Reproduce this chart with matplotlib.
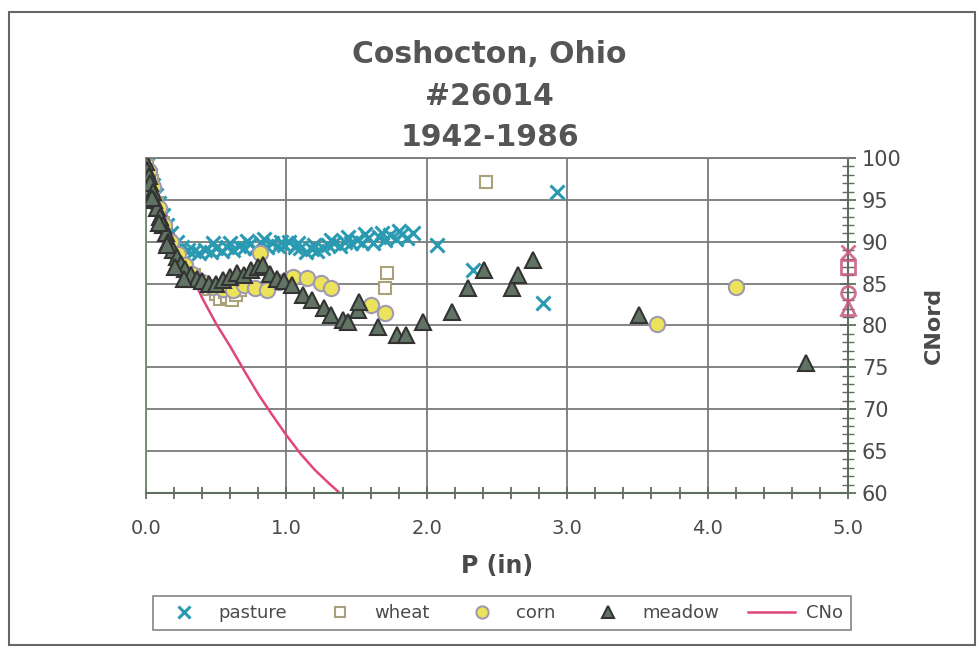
import matplotlib.pyplot as plt
from matplotlib.ticker import MultipleLocator, FormatStrFormatter
from matplotlib.patches import Rectangle

# storm rainfall P (in) vs ordered curve number, by land use
pasture_p = [0.01, 0.03, 0.05, 0.07, 0.09, 0.12, 0.15, 0.18, 0.22, 0.26, 0.30, 0.34, 0.38,
             0.42, 0.46, 0.50, 0.54, 0.58, 0.62, 0.66, 0.70, 0.74, 0.78, 0.82, 0.86, 0.90,
             0.94, 0.98, 1.02, 1.06, 1.10, 1.14, 1.18, 1.22, 1.26, 1.30, 1.34, 1.38, 1.42,
             1.46, 1.50, 1.54, 1.58, 1.62, 1.66, 1.70, 1.74, 1.78, 1.82, 1.86, 1.90,
             0.48, 0.60, 0.72, 0.84, 0.96, 1.08, 1.20, 1.32, 1.44, 1.56, 1.68, 1.80,
             2.07, 2.33, 2.83, 2.93]
pasture_cn = [99.2, 98.0, 96.8, 95.6, 94.6, 93.2, 92.0, 91.0, 90.0, 89.4, 89.0, 88.9, 88.6,
              89.0, 88.8, 89.2, 88.9, 89.4, 89.0, 89.5, 89.2, 89.7, 89.3, 89.8, 89.4, 89.9,
              89.5, 89.6, 90.0, 89.4, 89.2, 88.8, 89.1, 88.9, 89.3, 89.6, 89.9, 89.5, 90.0,
              89.8, 90.2, 89.9, 90.4, 89.8, 90.6, 90.2, 90.8, 90.3, 90.9, 90.5, 91.1,
              89.8, 89.9, 90.1, 90.3, 90.0, 89.9, 89.6, 90.2, 90.6, 90.9, 91.0, 91.3,
              89.6, 86.6, 82.7, 95.9]

wheat_p = [0.01, 0.04, 0.08, 0.12, 0.17, 0.22, 0.28, 0.34, 0.40, 0.45, 0.50, 0.53, 0.56,
           0.58, 0.61, 0.64, 0.67, 1.70, 1.72, 2.42]
wheat_cn = [99.0, 97.2, 94.6, 92.2, 90.0, 88.4, 87.0, 86.0, 85.2, 84.4, 83.8, 83.2, 84.0,
            83.4, 83.0, 83.6, 84.2, 84.5, 86.3, 97.1]

corn_p = [0.02, 0.05, 0.09, 0.13, 0.18, 0.23, 0.28, 0.33, 0.40, 0.48, 0.55, 0.62, 0.70,
          0.78, 0.81, 0.86, 0.95, 1.05, 1.15, 1.25, 1.32, 1.60, 1.70, 3.64, 4.20]
corn_cn = [98.5, 96.5, 94.0, 92.0, 90.0, 88.5, 87.2, 86.2, 85.2, 84.6, 84.4, 84.2, 84.8,
           84.5, 88.6, 84.2, 85.2, 85.8, 85.7, 85.1, 84.5, 82.5, 81.5, 80.2, 84.6]

meadow_p = [0.00, 0.01, 0.02, 0.03, 0.05, 0.06, 0.08, 0.10, 0.12, 0.14, 0.16, 0.19, 0.22,
            0.25, 0.28, 0.32, 0.36, 0.40, 0.45, 0.50, 0.55, 0.60, 0.65, 0.70, 0.75, 0.80,
            0.83, 0.88, 0.93, 0.98, 1.04, 1.12, 1.18, 1.27, 1.32, 1.40, 1.44, 1.51, 1.52,
            1.65, 1.79, 1.85, 1.97, 2.18, 2.29, 2.41, 2.61, 2.65, 2.76, 3.51, 4.70,
            0.04, 0.09, 0.15, 0.21, 0.27]
meadow_cn = [99.5, 98.6, 97.8, 97.0, 96.0, 95.0, 94.0, 93.0, 92.0, 91.0, 90.0, 89.0, 88.2,
             87.4, 86.8, 86.0, 85.6, 85.3, 85.0, 85.0, 85.4, 85.8, 86.3, 86.0, 86.6, 87.0,
             87.2, 86.2, 85.6, 85.3, 84.8, 83.6, 83.0, 82.1, 81.3, 80.7, 80.4, 81.9, 82.8,
             79.8, 78.9, 78.9, 80.4, 81.6, 84.5, 86.6, 84.5, 86.0, 87.8, 81.2, 75.5,
             95.2, 92.2, 89.6, 87.0, 85.6]

# CNo curve
cno_p = [0.0, 0.05, 0.1, 0.15, 0.2, 0.25, 0.3, 0.35, 0.4, 0.5, 0.6, 0.7, 0.8, 0.9, 1.0,
         1.1, 1.2, 1.3, 1.38]
cno_cn = [100.0, 97.6, 95.2, 93.0, 90.9, 88.9, 87.0, 85.1, 83.3, 80.2, 77.5, 74.6, 71.8,
          69.3, 66.9, 64.7, 62.8, 61.2, 60.0]

# asymptotic values marked on the right axis
end_cn = {'pasture': 88.8, 'wheat': 87.0, 'corn': 83.9, 'meadow': 82.1}

plt.rcParams['font.family'] = ['DejaVu Sans']
txt = '#4a4a4a'

fig = plt.figure(figsize=(9.79, 6.54), dpi=100)
ax = fig.add_axes([0.1491, 0.2462, 0.7171, 0.5122])

ax.plot(cno_p, cno_cn, color='#e0457d', lw=1.8, zorder=2, label='CNo')
ax.plot(pasture_p, pasture_cn, ls='none', marker='x', ms=10, mew=2.2,
        color='#2a9ab3', zorder=3, label='pasture')
ax.plot(wheat_p, wheat_cn, ls='none', marker='s', ms=9, mew=1.5, mfc='white',
        mec='#aaa27a', zorder=4, label='wheat')
ax.plot(corn_p, corn_cn, ls='none', marker='o', ms=11, mew=1.5, mfc='#ece35a',
        mec='#a09ab0', zorder=5, label='corn')
ax.plot(meadow_p, meadow_cn, ls='none', marker='^', ms=11, mew=1.5, mfc='#617463',
        mec='#333333', zorder=6, label='meadow')

# right-axis markers
pink = '#c8587f'
for key, mk in [('pasture', 'x'), ('wheat', 's'), ('corn', 'o'), ('meadow', '^')]:
    ax.plot([5.0], [end_cn[key]], ls='none', marker=mk, ms=10, mew=2,
            mfc='none' if mk != 'x' else pink, mec=pink, color=pink,
            alpha=0.85, clip_on=False, zorder=7)

ax.set_xlim(0, 5)
ax.set_ylim(60, 100)
ax.xaxis.set_major_locator(MultipleLocator(1.0))
ax.xaxis.set_minor_locator(MultipleLocator(0.2))
ax.xaxis.set_major_formatter(FormatStrFormatter('%.1f'))
ax.yaxis.set_major_locator(MultipleLocator(5))
ax.yaxis.set_minor_locator(MultipleLocator(1))
ax.yaxis.tick_right()
ax.yaxis.set_label_position('right')

ax.grid(True, which='major', color='#7a7a7a', lw=1.3)
ax.set_axisbelow(True)
for side in ['top', 'left']:
    ax.spines[side].set_color('#7a7a7a')
    ax.spines[side].set_linewidth(1.3)
ax.spines['left'].set_color('#6f8a6f')
ax.spines['bottom'].set_color('#5f6f5f')
ax.spines['right'].set_color('#5f6f5f')
ax.spines['bottom'].set_linewidth(1.5)
ax.spines['right'].set_linewidth(1.5)

ax.tick_params(axis='x', which='both', direction='inout', length=9, width=1.3,
               color='#5f6f5f', labelsize=14, labelcolor=txt, pad=14)
ax.tick_params(axis='y', which='major', direction='inout', length=12, width=1.3,
               color='#5f6f5f', labelsize=15, labelcolor=txt, pad=4)
ax.tick_params(axis='y', which='minor', direction='inout', length=8, width=1.0,
               color='#5f6f5f')

ax.set_xlabel('P (in)', fontsize=17, fontweight='bold', color=txt, labelpad=12)
ax.set_ylabel('CNord', fontsize=16, fontweight='bold', color=txt, labelpad=16)

for y, line in [(0.916, 'Coshocton, Ohio'), (0.852, '#26014'), (0.789, '1942-1986')]:
    fig.text(0.5, y, line, ha='center', va='center', fontsize=21.5,
             fontweight='bold', color='#555555')

handles, labels = ax.get_legend_handles_labels()
order = [1, 2, 3, 4, 0]
leg = fig.legend([handles[i] for i in order], [labels[i] for i in order],
                 loc='center', bbox_to_anchor=(0.5126, 0.0627), ncol=5,
                 fontsize=13, frameon=True, fancybox=False, edgecolor='#666666',
                 handlelength=2.6, columnspacing=1.6, handletextpad=0.6,
                 borderpad=0.45, borderaxespad=0, markerscale=0.8)
leg.get_frame().set_linewidth(1.2)
for t in leg.get_texts():
    t.set_color(txt)

# outer chart border
fig.patches.append(Rectangle((0.009, 0.013), 0.987, 0.968, transform=fig.transFigure,
                             fill=False, edgecolor='#666666', lw=1.5))

fig.savefig('out.png', dpi=100)
